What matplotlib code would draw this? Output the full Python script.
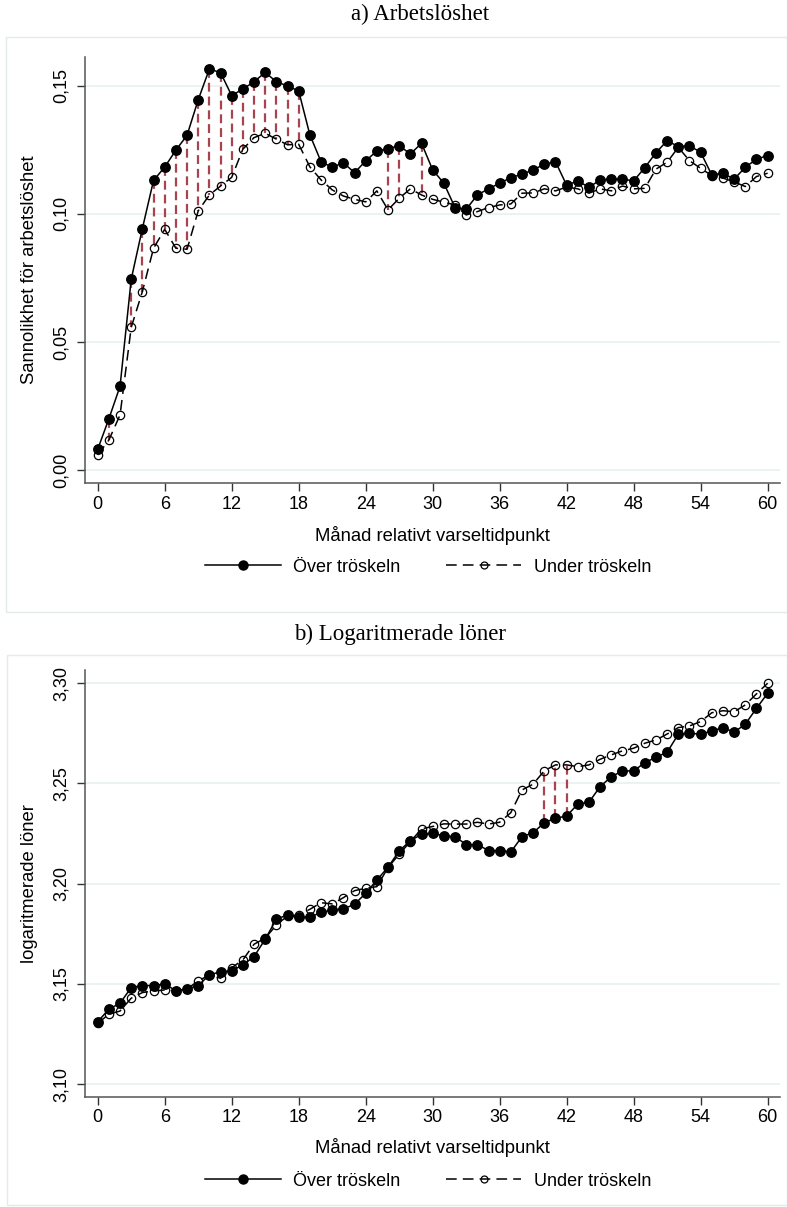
import numpy as np
import matplotlib
matplotlib.use('Agg')
import matplotlib.pyplot as plt
from matplotlib.patches import Rectangle
from matplotlib.lines import Line2D

plt.rcParams['font.family'] = ['Liberation Sans', 'DejaVu Sans']

# manad relativt varseltidpunkt
months = np.arange(61)
xticks = [0, 6, 12, 18, 24, 30, 36, 42, 48, 54, 60]

# a) sannolikhet for arbetsloshet
over_a = [0.0081, 0.0200, 0.0327, 0.0745, 0.0943, 0.1131, 0.1183, 0.1249, 0.1307, 0.1446,
          0.1566, 0.1552, 0.1462, 0.1488, 0.1516, 0.1553, 0.1516, 0.1500, 0.1480, 0.1309,
          0.1204, 0.1182, 0.1200, 0.1161, 0.1207, 0.1246, 0.1254, 0.1267, 0.1234, 0.1276,
          0.1172, 0.1120, 0.1025, 0.1018, 0.1074, 0.1098, 0.1120, 0.1142, 0.1155, 0.1172,
          0.1194, 0.1204, 0.1112, 0.1129, 0.1104, 0.1133, 0.1136, 0.1136, 0.1129, 0.1181,
          0.1239, 0.1286, 0.1263, 0.1266, 0.1241, 0.1152, 0.1159, 0.1136, 0.1182, 0.1214, 0.1228]
under_a = [0.0059, 0.0117, 0.0215, 0.0557, 0.0697, 0.0866, 0.0940, 0.0866, 0.0862, 0.1012,
           0.1074, 0.1109, 0.1143, 0.1253, 0.1298, 0.1315, 0.1292, 0.1270, 0.1272, 0.1184,
           0.1133, 0.1094, 0.1070, 0.1057, 0.1047, 0.1090, 0.1016, 0.1061, 0.1098, 0.1074,
           0.1057, 0.1046, 0.1035, 0.0996, 0.1009, 0.1025, 0.1035, 0.1039, 0.1081, 0.1082,
           0.1098, 0.1090, 0.1105, 0.1098, 0.1081, 0.1098, 0.1090, 0.1109, 0.1098, 0.1100,
           0.1175, 0.1202, 0.1260, 0.1208, 0.1178, 0.1150, 0.1140, 0.1125, 0.1107, 0.1146, 0.1159]
sig_a = [1, 3, 4, 5, 6, 7, 8, 9, 10, 11, 12, 13, 14, 15, 16, 17, 18, 26, 27, 29]
yticks_a = [0.00, 0.05, 0.10, 0.15]

# b) logaritmerade loner
over_b = [3.1312, 3.1374, 3.1404, 3.1482, 3.1492, 3.1492, 3.1499, 3.1467, 3.1475, 3.1492,
          3.1545, 3.1561, 3.1565, 3.1595, 3.1636, 3.1723, 3.1823, 3.1844, 3.1832, 3.1832,
          3.1857, 3.1869, 3.1874, 3.1897, 3.1952, 3.2018, 3.2082, 3.2163, 3.2214, 3.2246,
          3.2251, 3.2238, 3.2234, 3.2195, 3.2195, 3.2165, 3.2165, 3.2158, 3.2234, 3.2254,
          3.2304, 3.2326, 3.2337, 3.2397, 3.2406, 3.2484, 3.2533, 3.2562, 3.2562, 3.2603,
          3.2630, 3.2655, 3.2745, 3.2750, 3.2745, 3.2761, 3.2778, 3.2755, 3.2795, 3.2874, 3.2949]
under_b = [3.1304, 3.1349, 3.1365, 3.1429, 3.1457, 3.1465, 3.1470, 3.1467, 3.1475, 3.1515,
           3.1545, 3.1528, 3.1581, 3.1620, 3.1698, 3.1728, 3.1794, 3.1839, 3.1844, 3.1872,
           3.1905, 3.1899, 3.1930, 3.1965, 3.1977, 3.1985, 3.2080, 3.2147, 3.2209, 3.2273,
           3.2285, 3.2298, 3.2297, 3.2297, 3.2306, 3.2297, 3.2306, 3.2354, 3.2467, 3.2496,
           3.2563, 3.2592, 3.2592, 3.2583, 3.2592, 3.2620, 3.2642, 3.2662, 3.2675, 3.2700,
           3.2716, 3.2746, 3.2778, 3.2786, 3.2808, 3.2852, 3.2862, 3.2857, 3.2891, 3.2946, 3.2999]
sig_b = [40, 41, 42]
yticks_b = [3.10, 3.15, 3.20, 3.25, 3.30]

GRID = '#e8f0f1'
AXC = '#555555'
RED = '#a8444e'
DASH = (0, (7, 4))


def panel(ax, over, under, sig, yticks, ylim, ylabel):
    over = np.array(over)
    under = np.array(under)
    for y in yticks:
        ax.axhline(y, color=GRID, lw=1.2, zorder=0)
    ax.vlines(sig, over[sig], under[sig], colors=RED, linestyles=(0, (4, 2.2)), lw=1.6, zorder=1)
    ax.plot(months, under, color='black', lw=1.1, ls=DASH, marker='o', ms=6,
            mfc='none', mec='black', mew=0.9, zorder=2)
    ax.plot(months, over, color='black', lw=1.1, marker='o', ms=6.8,
            mfc='black', mec='black', zorder=3)
    ax.set_xlim(-1.14, 61.1)
    ax.set_ylim(*ylim)
    ax.set_xticks(xticks)
    ax.set_yticks(yticks)
    ax.set_yticklabels([f'{v:.2f}'.replace('.', ',') for v in yticks], rotation=90, va='center')
    ax.tick_params(axis='both', colors='#333333', labelcolor='black', labelsize=13,
                   length=6, width=1)
    ax.tick_params(axis='y', pad=5)
    ax.tick_params(axis='x', pad=3)
    for s in ['top', 'right']:
        ax.spines[s].set_visible(False)
    for s in ['left', 'bottom']:
        ax.spines[s].set_color(AXC)
        ax.spines[s].set_linewidth(1.1)
    ax.set_xlabel('Månad relativt varseltidpunkt', fontsize=13.3)
    ax.set_ylabel(ylabel, fontsize=13.3)
    ax.yaxis.set_label_coords(-0.068, 0.5)


fig = plt.figure(figsize=(7.87, 12.07), dpi=100)

# ramar runt panelerna
fig.patches.append(Rectangle((6 / 787, 1 - 612 / 1207), 781 / 787, 575 / 1207,
                             transform=fig.transFigure, fill=False, ec='#e4eaea', lw=1))
fig.patches.append(Rectangle((7 / 787, 1 - 1205 / 1207), 780 / 787, 550 / 1207,
                             transform=fig.transFigure, fill=False, ec='#e4eaea', lw=1))

ax1 = fig.add_axes([0.108, 0.5998, 0.883, 0.353])
panel(ax1, over_a, under_a, sig_a, yticks_a, (-0.0051, 0.1613), 'Sannolikhet för arbetslöshet')
ax1.xaxis.set_label_coords(0.5, -0.101)

ax2 = fig.add_axes([0.108, 0.0914, 0.883, 0.3535])
panel(ax2, over_b, under_b, sig_b, yticks_b, (3.0938, 3.3065), 'logaritmerade löner')
ax2.xaxis.set_label_coords(0.5, -0.097)

fig.text(0.534, 1 - 14 / 1207, 'a) Arbetslöshet', family='Liberation Serif', fontsize=16.5,
         ha='center', va='center')
fig.text(0.508, 1 - 634 / 1207, 'b) Logaritmerade löner', family='Liberation Serif', fontsize=16.5,
         ha='center', va='center')

h_over = Line2D([], [], color='black', lw=1.1, marker='o', ms=6.5, mfc='black')
h_under = Line2D([], [], color='black', lw=1.1, ls=DASH, marker='o', ms=5, mfc='none', mew=0.9)
for yy in [567, 1181]:
    fig.legend([h_over, h_under], ['Över tröskeln', 'Under tröskeln'], loc='center',
               bbox_to_anchor=(0.544, 1 - yy / 1207), ncol=2, frameon=False, fontsize=13,
               handlelength=4.2, columnspacing=2.5, handletextpad=0.7)

fig.savefig('out.png', dpi=100, facecolor='white')
